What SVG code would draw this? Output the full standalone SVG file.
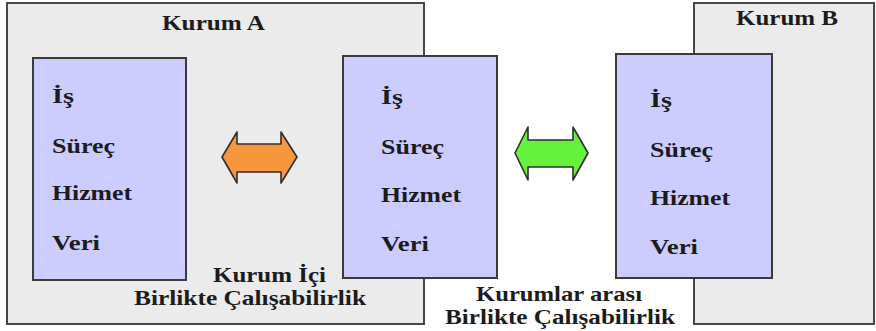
<svg xmlns="http://www.w3.org/2000/svg" width="876" height="331" viewBox="0 0 876 331">
  <style>
    .org { fill: #ebebeb; stroke: #474747; stroke-width: 2; }
    .layer { fill: #ccccff; stroke: #3a3a3a; stroke-width: 2; }
    .t { font-family: 'Liberation Serif', 'Times New Roman', serif; font-weight: 700; fill: #1c1c1c; font-size: 21px; }
    .arrow { stroke: #2e2e2e; stroke-width: 1.6; stroke-linejoin: round; }
  </style>
  <rect width="876" height="331" fill="#ffffff"/>

  <!-- organisation frames -->
  <g id="kurum-a">
    <rect class="org" x="7" y="3" width="417" height="321"/>
    <text class="t" x="162" y="30" textLength="103" lengthAdjust="spacingAndGlyphs">Kurum A</text>
  </g>
  <g id="kurum-b">
    <rect class="org" x="694" y="3" width="180" height="321"/>
    <text class="t" x="736" y="25" textLength="102" lengthAdjust="spacingAndGlyphs">Kurum B</text>
  </g>

  <!-- layer stacks -->
  <g id="stack-a1">
    <rect class="layer" x="33" y="58" width="153" height="222"/>
    <text class="t" x="52" y="103" textLength="22" lengthAdjust="spacingAndGlyphs">İş</text>
    <text class="t" x="52" y="153" textLength="63" lengthAdjust="spacingAndGlyphs">Süreç</text>
    <text class="t" x="52" y="200" textLength="80" lengthAdjust="spacingAndGlyphs">Hizmet</text>
    <text class="t" x="52" y="250" textLength="48" lengthAdjust="spacingAndGlyphs">Veri</text>
  </g>
  <g id="stack-a2">
    <rect class="layer" x="343" y="56" width="154" height="222"/>
    <text class="t" x="381" y="104" textLength="22" lengthAdjust="spacingAndGlyphs">İş</text>
    <text class="t" x="381" y="154" textLength="63" lengthAdjust="spacingAndGlyphs">Süreç</text>
    <text class="t" x="381" y="202" textLength="80" lengthAdjust="spacingAndGlyphs">Hizmet</text>
    <text class="t" x="381" y="251" textLength="48" lengthAdjust="spacingAndGlyphs">Veri</text>
  </g>
  <g id="stack-b">
    <rect class="layer" x="616" y="54" width="156" height="224"/>
    <text class="t" x="650" y="107" textLength="22" lengthAdjust="spacingAndGlyphs">İş</text>
    <text class="t" x="650" y="157" textLength="63" lengthAdjust="spacingAndGlyphs">Süreç</text>
    <text class="t" x="650" y="205" textLength="80" lengthAdjust="spacingAndGlyphs">Hizmet</text>
    <text class="t" x="650" y="254" textLength="48" lengthAdjust="spacingAndGlyphs">Veri</text>
  </g>

  <!-- double-headed block arrows -->
  <g id="connectors">
    <polygon class="arrow" fill="#f7963c"
      points="222,157 237,132 237,144 281,144 281,132 297,157 281,183 281,172 237,172 237,183"/>
    <polygon class="arrow" fill="#66f23c"
      points="515,153 528,127 528,140 573,140 573,127 588,153 573,180 573,167 528,167 528,180"/>
  </g>

  <!-- captions -->
  <g id="caption-internal">
    <text class="t" x="213" y="282" textLength="113" lengthAdjust="spacingAndGlyphs">Kurum İçi</text>
    <text class="t" x="134" y="305" textLength="232" lengthAdjust="spacingAndGlyphs">Birlikte Çalışabilirlik</text>
  </g>
  <g id="caption-external">
    <text class="t" x="476" y="301" textLength="166" lengthAdjust="spacingAndGlyphs">Kurumlar arası</text>
    <text class="t" x="445" y="324" textLength="230" lengthAdjust="spacingAndGlyphs">Birlikte Çalışabilirlik</text>
  </g>
</svg>
